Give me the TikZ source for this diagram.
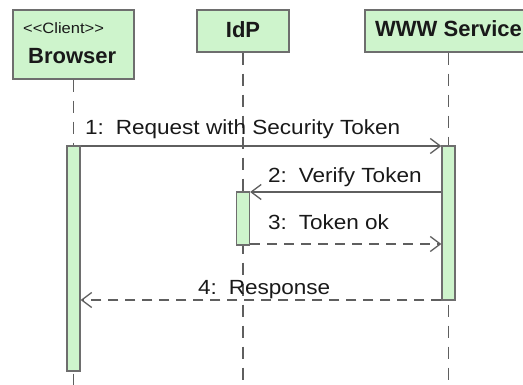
\documentclass[tikz,border=0pt]{standalone}
\usepackage{fontspec}
\setmainfont{Liberation Sans}
\newfontfamily\lblfont{Liberation Sans}[FakeStretch=1.1]
\usetikzlibrary{arrows.meta}
\definecolor{actfill}{RGB}{206,244,204}
\definecolor{frame}{RGB}{110,110,110}
\definecolor{wire}{RGB}{95,95,95}
\definecolor{ink}{RGB}{25,25,25}
\tikzset{
  headbox/.style={draw=frame, fill=actfill, line width=1.4pt, inner sep=0pt},
  actbar/.style={draw=frame, fill=actfill, line width=1.3pt, inner sep=0pt, minimum width=13pt},
  lifeline/.style={draw=wire, line width=1.2pt, dash pattern=on 12pt off 9pt},
  msg/.style={draw=wire, line width=1.3pt, -{Straight Barb[length=10pt,width=15pt,line width=1.3pt]}},
  reply/.style={msg, dash pattern=on 10pt off 7pt},
  title/.style={font=\fontsize{22}{25}\selectfont\bfseries, text=ink, inner sep=0pt},
  stereo/.style={font=\lblfont\fontsize{15}{17}\selectfont, text=ink, inner sep=0pt},
  lbl/.style={font=\lblfont\fontsize{20.5}{23}\selectfont, text=ink, inner sep=0pt, anchor=base west}
}
\begin{document}
\begin{tikzpicture}[x=1pt, y=-1pt]
\useasboundingbox (0,0) rectangle (523,385);
\clip (0,0) rectangle (523,385);

% lifeline heads
\node[headbox, minimum width=121pt, minimum height=69pt] (hB) at (73.5,44.5) {};
\node[headbox, minimum width=92pt, minimum height=42pt] (hI) at (243,31) {};
\node[headbox, minimum width=180pt, minimum height=42pt] (hW) at (455,31) {};
\node[stereo, anchor=base west] (tC) at (23,34) {<\kern0pt<Client>\kern0pt>};
\node[title, anchor=base west] (tB) at (28,64) {Browser};
\node[title, anchor=base] (tI) at (243,38) {IdP};
\node[title, anchor=base west] (tW) at (375,37) {WWW Service};

% lifeline ends
\coordinate (eB) at (73.5,390);
\coordinate (eI) at (243,390);
\coordinate (eW) at (448.5,390);
\draw[lifeline] (hB.south -| eB) -- (eB);
\draw[lifeline] (hI.south -| eI) -- (eI);
\draw[lifeline] (hW.south -| eW) -- (eW);

% activation bars
\node[actbar, minimum height=225pt] (aB) at (73.5,258.5) {};
\node[actbar, minimum height=154pt] (aW) at (448.5,223) {};
\node[actbar, minimum height=53pt] (aI) at (243,218.5) {};

% message rows
\coordinate (m1) at (0,146);
\coordinate (m2) at (0,192);
\coordinate (m3) at (0,244);
\coordinate (m4) at (0,300);

\draw[msg] (aB.east |- m1) -- (aW.west |- m1);
\draw[msg] (aW.west |- m2) -- (aI.east |- m2);
\draw[reply] (aI.east |- m3) -- (aW.west |- m3);
\draw[reply] (aW.west |- m4) -- (aB.east |- m4);

\node[lbl] (l1) at (85,135) {1:\, Request with Security Token};
\node[lbl] (l2) at (268,183) {2:\, Verify Token};
\node[lbl] (l3) at (268,230) {3:\, Token ok};
\node[lbl] (l4) at (198,295) {4:\, Response};
\end{tikzpicture}
\end{document}
